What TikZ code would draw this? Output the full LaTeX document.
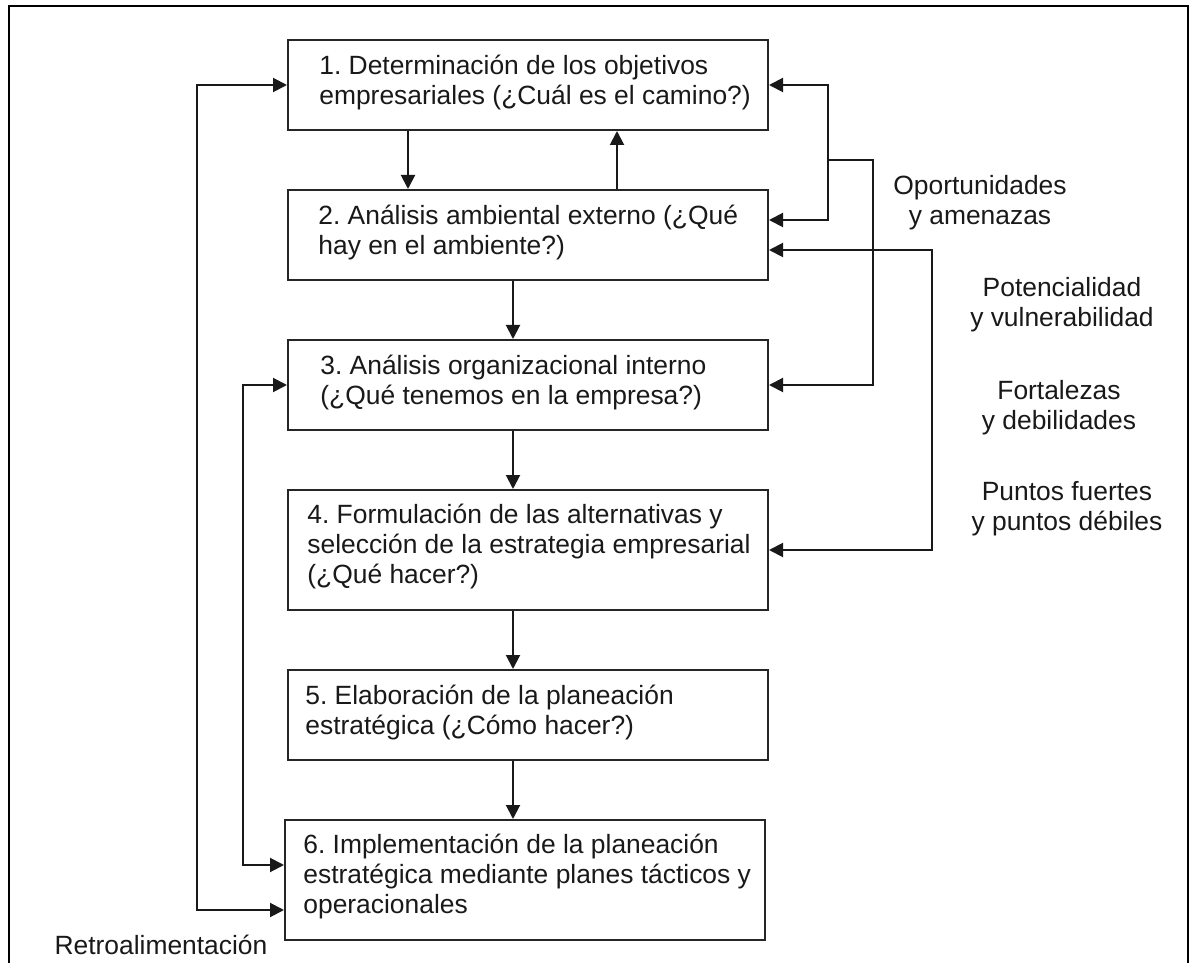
\documentclass[tikz,border=0pt]{standalone}
\usepackage{fontspec}
\setmainfont{Liberation Sans}
\usetikzlibrary{arrows.meta}
\frenchspacing
\begin{document}
\begin{tikzpicture}[x=0.5pt,y=-0.5pt,
  every node/.style={font=\fontsize{13.2pt}{15pt}\selectfont, text=black!90},
  stepbox/.style={draw=black!85, line width=1pt, rectangle, inner sep=0pt, anchor=center},
  steptext/.style={align=left, inner sep=0pt, anchor=west},
  lbl/.style={align=center, inner sep=0pt},
  conn/.style={draw=black!90, line width=1pt},
  arr/.style={conn, -{Triangle[length=7pt,width=7pt]}},
  darr/.style={conn, {Triangle[length=7pt,width=7pt]}-{Triangle[length=7pt,width=7pt]}}
]
\useasboundingbox (0,0) rectangle (1191,963);
\fill[white] (0,0) rectangle (1191,963);
% outer frame (bottom edge lies outside the picture)
\draw[black, line width=1pt] (9,963) -- (9,6) -- (1188,6) -- (1188,963);

% boxes
\node[stepbox, minimum width=240pt, minimum height=45pt] (b1) at (528,85) {};
\node[stepbox, minimum width=240pt, minimum height=45pt] (b2) at (528,235) {};
\node[stepbox, minimum width=240pt, minimum height=45pt] (b3) at (528,385) {};
\node[stepbox, minimum width=240pt, minimum height=60pt] (b4) at (528,550) {};
\node[stepbox, minimum width=240pt, minimum height=45pt] (b5) at (528,715) {};
\node[stepbox, minimum width=240pt, minimum height=60pt] (b6) at (525,880) {};

% box texts
\node[steptext] (t1) at (319,83) {1. Determinación de los objetivos\\empresariales (¿Cuál es el camino?)};
\node[steptext] (t2) at (318,233) {2. Análisis ambiental externo (¿Qué\\hay en el ambiente?)};
\node[steptext] (t3) at (320,383) {3. Análisis organizacional interno\\(¿Qué tenemos en la empresa?)};
\node[steptext] (t4) at (307,547) {4. Formulación de las alternativas y\\selección de la estrategia empresarial\\(¿Qué hacer?)};
\node[steptext] (t5) at (305,713) {5. Elaboración de la planeación\\estratégica (¿Cómo hacer?)};
\node[steptext] (t6) at (303,877) {6. Implementación de la planeación\\estratégica mediante planes tácticos y\\operacionales};

% side labels
\node[lbl] (l1) at (980,203) {Oportunidades\\y amenazas};
\node[lbl] (l2) at (1062,305) {Potencialidad\\y vulnerabilidad};
\node[lbl] (l3) at (1059,408) {Fortalezas\\y debilidades};
\node[lbl] (l4) at (1067,509) {Puntos fuertes\\y puntos débiles};
\node[lbl] (l5) at (161,945) {Retroalimentación};

% vertical flow
\coordinate (c12) at (408,0);
\coordinate (c21) at (617,0);
\coordinate (cm) at (513,0);
\draw[arr] (b1.south -| c12) -- (b2.north -| c12);
\draw[arr] (b2.north -| c21) -- (b1.south -| c21);
\draw[arr] (b2.south -| cm) -- (b3.north -| cm);
\draw[arr] (b3.south -| cm) -- (b4.north -| cm);
\draw[arr] (b4.south -| cm) -- (b5.north -| cm);
\draw[arr] (b5.south -| cm) -- (b6.north -| cm);

% right side connectors
\coordinate (ra) at (828,85);
\coordinate (rb) at (828,220);
\coordinate (rc) at (828,160);
\coordinate (rd) at (873,160);
\coordinate (re) at (873,385);
\draw[darr] (ra -| b1.east) -- (ra) -- (rb) -- (rb -| b2.east);
\draw[arr] (rc) -- (rd) -- (re) -- (re -| b3.east);
\coordinate (rf) at (932,250);
\coordinate (rg) at (932,550);
\draw[darr] (rf -| b2.east) -- (rf) -- (rg) -- (rg -| b4.east);

% left feedback connectors
\coordinate (la) at (197,85);
\coordinate (lb) at (197,910);
\draw[darr] (la -| b1.west) -- (la) -- (lb) -- (lb -| b6.west);
\coordinate (lc) at (243,385);
\coordinate (ld) at (243,865);
\draw[darr] (lc -| b3.west) -- (lc) -- (ld) -- (ld -| b6.west);
\end{tikzpicture}
\end{document}
